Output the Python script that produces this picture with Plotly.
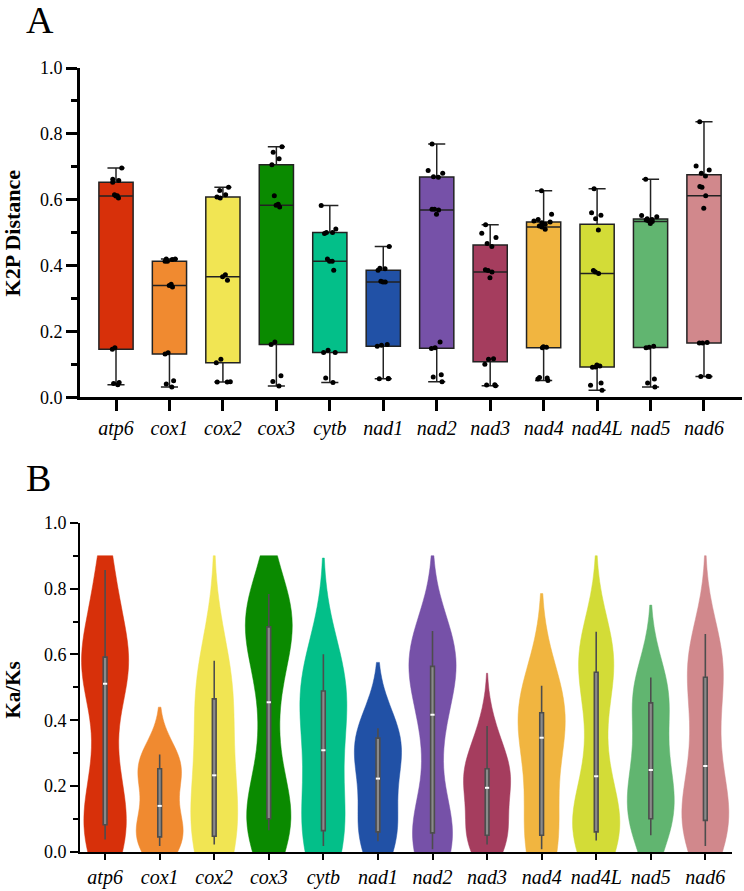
import numpy as np
import plotly.graph_objects as go

genes = ["atp6", "cox1", "cox2", "cox3", "cytb", "nad1", "nad2", "nad3", "nad4", "nad4L", "nad5", "nad6"]
colors = ["#D7300A", "#F08A30", "#F1E553", "#0A8A00", "#03BF89", "#2151A6",
          "#7651A8", "#A53D5E", "#F1B540", "#D3DC37", "#61B570", "#D1888C"]

# Panel A: K2P distances
k2p_atp6 = [0.038, 0.042, 0.045, 0.146, 0.150, 0.605, 0.611, 0.612, 0.615, 0.653, 0.658, 0.662, 0.696]
k2p_cox1 = [0.031, 0.040, 0.050, 0.131, 0.135, 0.335, 0.339, 0.343, 0.413, 0.413, 0.418, 0.420, 0.420]
k2p_cox2 = [0.046, 0.046, 0.047, 0.105, 0.115, 0.355, 0.366, 0.372, 0.605, 0.608, 0.615, 0.628, 0.638]
k2p_cox3 = [0.034, 0.048, 0.065, 0.160, 0.168, 0.578, 0.583, 0.586, 0.612, 0.706, 0.724, 0.744, 0.761]
k2p_cytb = [0.045, 0.058, 0.136, 0.136, 0.143, 0.386, 0.413, 0.413, 0.420, 0.497, 0.500, 0.500, 0.511, 0.582]
k2p_nad1 = [0.056, 0.056, 0.057, 0.155, 0.158, 0.160, 0.350, 0.350, 0.352, 0.386, 0.390, 0.392, 0.458]
k2p_nad2 = [0.047, 0.061, 0.068, 0.148, 0.150, 0.168, 0.556, 0.569, 0.571, 0.571, 0.668, 0.670, 0.680, 0.689, 0.769]
k2p_nad3 = [0.035, 0.037, 0.038, 0.100, 0.115, 0.117, 0.363, 0.380, 0.385, 0.387, 0.458, 0.467, 0.485, 0.498, 0.524]
k2p_nad4 = [0.051, 0.055, 0.058, 0.060, 0.150, 0.152, 0.153, 0.510, 0.517, 0.520, 0.525, 0.530, 0.532, 0.535, 0.540, 0.556, 0.627]
k2p_nad4L = [0.021, 0.036, 0.043, 0.091, 0.092, 0.095, 0.098, 0.376, 0.380, 0.385, 0.508, 0.542, 0.553, 0.560, 0.633]
k2p_nad5 = [0.031, 0.043, 0.055, 0.150, 0.152, 0.155, 0.528, 0.534, 0.536, 0.538, 0.540, 0.542, 0.548, 0.552, 0.662]
k2p_nad6 = [0.063, 0.063, 0.064, 0.165, 0.165, 0.166, 0.574, 0.612, 0.638, 0.640, 0.672, 0.680, 0.690, 0.702, 0.837]

# Panel B: Ka/Ks ratios
kaks_atp6 = [0.038, 0.050, 0.065, 0.083, 0.200, 0.300, 0.511, 0.540, 0.570, 0.592, 0.620, 0.760, 0.857]
kaks_cox1 = [0.018, 0.030, 0.040, 0.046, 0.060, 0.090, 0.140, 0.200, 0.240, 0.253, 0.270, 0.280, 0.296]
kaks_cox2 = [0.023, 0.035, 0.045, 0.048, 0.080, 0.140, 0.233, 0.300, 0.420, 0.465, 0.500, 0.540, 0.581]
kaks_cox3 = [0.066, 0.080, 0.095, 0.101, 0.130, 0.300, 0.455, 0.600, 0.650, 0.684, 0.720, 0.750, 0.784]
kaks_cytb = [0.018, 0.040, 0.055, 0.065, 0.100, 0.250, 0.309, 0.400, 0.450, 0.489, 0.500, 0.550, 0.601]
kaks_nad1 = [0.033, 0.045, 0.055, 0.061, 0.080, 0.210, 0.223, 0.280, 0.320, 0.346, 0.350, 0.360, 0.376]
kaks_nad2 = [0.008, 0.030, 0.050, 0.058, 0.100, 0.300, 0.417, 0.500, 0.550, 0.564, 0.600, 0.640, 0.671]
kaks_nad3 = [0.023, 0.035, 0.045, 0.051, 0.070, 0.170, 0.195, 0.210, 0.230, 0.253, 0.270, 0.320, 0.383]
kaks_nad4 = [0.008, 0.030, 0.045, 0.051, 0.100, 0.300, 0.347, 0.380, 0.400, 0.423, 0.450, 0.480, 0.505]
kaks_nad4L = [0.035, 0.045, 0.055, 0.061, 0.090, 0.150, 0.230, 0.350, 0.500, 0.546, 0.580, 0.620, 0.669]
kaks_nad5 = [0.051, 0.085, 0.098, 0.101, 0.170, 0.200, 0.249, 0.270, 0.400, 0.453, 0.470, 0.500, 0.530]
kaks_nad6 = [0.018, 0.060, 0.080, 0.096, 0.120, 0.200, 0.261, 0.350, 0.450, 0.531, 0.560, 0.600, 0.662]

# KDE bandwidths per gene
kaks_bw = [0.13, 0.072, 0.16, 0.13, 0.146, 0.10, 0.12, 0.08, 0.14, 0.12, 0.11, 0.12]
violin_top = 0.9

y_ticks = [0.0, 0.2, 0.4, 0.6, 0.8, 1.0]

k2p = [k2p_atp6, k2p_cox1, k2p_cox2, k2p_cox3, k2p_cytb, k2p_nad1,
       k2p_nad2, k2p_nad3, k2p_nad4, k2p_nad4L, k2p_nad5, k2p_nad6]
kaks = [kaks_atp6, kaks_cox1, kaks_cox2, kaks_cox3, kaks_cytb, kaks_nad1,
        kaks_nad2, kaks_nad3, kaks_nad4, kaks_nad4L, kaks_nad5, kaks_nad6]

FONT = "Liberation Serif"
fig = go.Figure()

for g, c, d in zip(genes, colors, k2p):
    fig.add_trace(go.Box(
        x=[g] * len(d), y=d, name=g, fillcolor=c,
        line=dict(color="#222222", width=1.5),
        marker=dict(color="black", size=5),
        boxpoints="all", jitter=0.6, pointpos=0, width=0.64, whiskerwidth=0.5,
        quartilemethod="inclusive",
        xaxis="x", yaxis="y", showlegend=False, hoverinfo="skip"))

for g, c, d, bw in zip(genes, colors, kaks, kaks_bw):
    fig.add_trace(go.Violin(
        x=[g] * len(d), y=d, name=g, fillcolor=c, opacity=1,
        line=dict(color=c, width=0.5),
        bandwidth=bw, spanmode="manual",
        span=[min(d) - 2 * bw, min(violin_top, max(d) + 2 * bw)],
        width=0.86, scalemode="width", points=False,
        quartilemethod="inclusive",
        box=dict(visible=True, width=0.08, fillcolor="#8a8a8a",
                 line=dict(color="#4d4d4d", width=1.6)),
        meanline=dict(visible=False),
        xaxis="x2", yaxis="y2", showlegend=False, hoverinfo="skip"))

fig.add_trace(go.Scatter(
    x=genes, y=[float(np.median(d)) for d in kaks], mode="markers",
    marker=dict(symbol="line-ew", size=3, line=dict(color="white", width=2)),
    xaxis="x2", yaxis="y2", showlegend=False, hoverinfo="skip"))

yfmt = dict(range=[0, 1], tickvals=y_ticks, tickformat=".1f", showgrid=False, zeroline=False,
            showline=True, linecolor="black", ticks="outside", tickcolor="black",
            tickfont=dict(size=18, family=FONT, color="black"))
xfmt = dict(type="category", categoryorder="array", categoryarray=genes, showgrid=False,
            zeroline=False, showline=True, linecolor="black", ticks="outside", tickcolor="black",
            tickfont=dict(size=20, family=FONT, color="black", style="italic"))

fig.update_layout(
    width=744, height=891, margin=dict(l=80, r=2, t=68, b=30),
    plot_bgcolor="white", paper_bgcolor="white",
    font=dict(family=FONT, color="black"),
    xaxis=dict(domain=[0, 1], anchor="y", range=[-0.6735, 11.711],
               linewidth=3, ticklen=11, tickwidth=3, **xfmt),
    yaxis=dict(domain=[0.5801, 1], anchor="x", linewidth=3, ticklen=11, tickwidth=3,
               minor=dict(dtick=0.1, ticks="outside", ticklen=6, tickwidth=2.5, tickcolor="black"),
               **yfmt),
    xaxis2=dict(domain=[0, 0.985], anchor="y2", range=[-0.46, 11.49],
                linewidth=2, ticklen=6, tickwidth=2, **xfmt),
    yaxis2=dict(domain=[0, 0.4199], anchor="x2", linewidth=2, ticklen=8, tickwidth=2,
                minor=dict(dtick=0.1, ticks="outside", ticklen=5, tickwidth=2, tickcolor="black"),
                **yfmt),
    annotations=[
        dict(text="A", xref="paper", yref="paper", x=-0.085, y=1.09, xanchor="left", yanchor="top",
             showarrow=False, font=dict(size=38, family=FONT, color="black")),
        dict(text="B", xref="paper", yref="paper", x=-0.085, y=0.507, xanchor="left", yanchor="top",
             showarrow=False, font=dict(size=38, family=FONT, color="black")),
        dict(text="<b>K2P Distance</b>", xref="paper", yref="paper", x=-0.1015, y=0.79,
             xanchor="center", yanchor="middle", textangle=-90, showarrow=False,
             font=dict(size=22, family=FONT, color="black")),
        dict(text="<b>Ka/Ks</b>", xref="paper", yref="paper", x=-0.1015, y=0.207,
             xanchor="center", yanchor="middle", textangle=-90, showarrow=False,
             font=dict(size=21, family=FONT, color="black")),
    ],
)

fig.write_html("out.html")
